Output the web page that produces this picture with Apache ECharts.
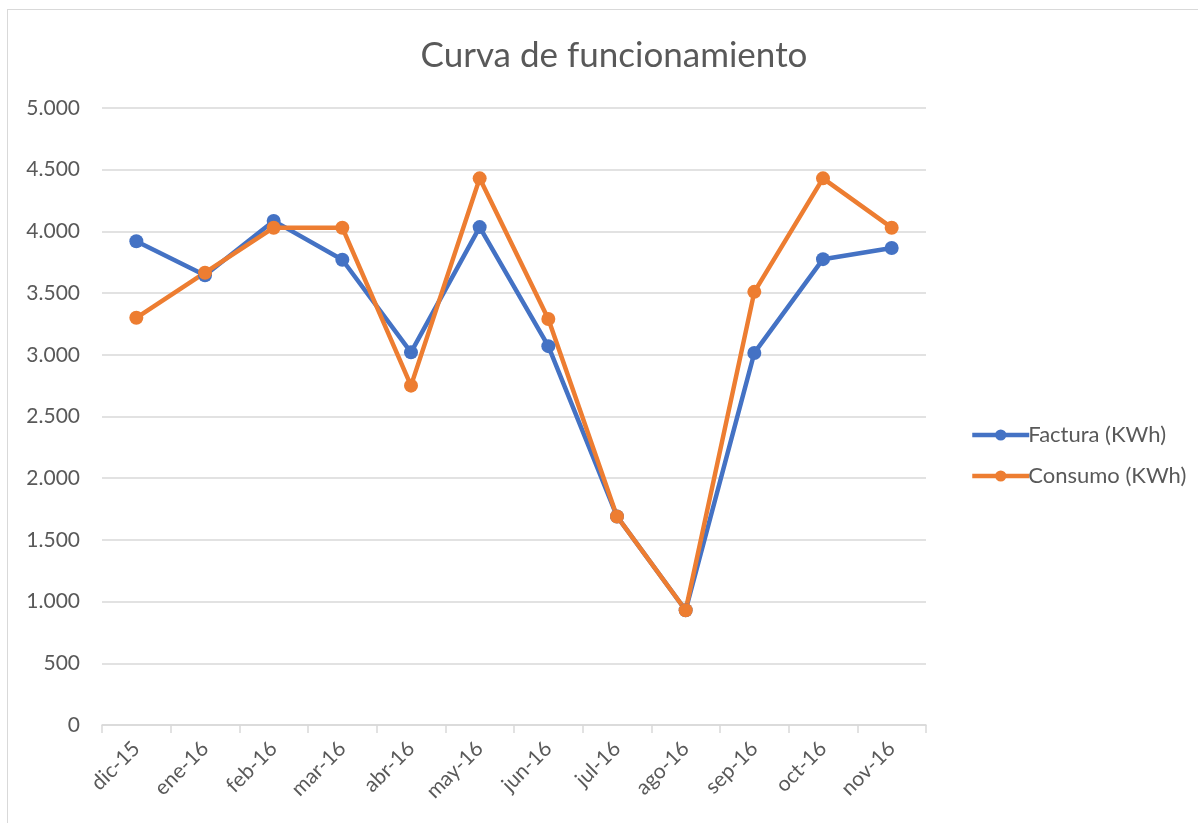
<!DOCTYPE html>
<html>
<head>
<meta charset="utf-8">
<script src="https://cdn.jsdelivr.net/npm/echarts@6/dist/echarts.min.js"></script>
<style>
  html, body { margin: 0; padding: 0; background: #fff; }
  #frame { position: absolute; left: 7px; top: 9px; width: 1200px; height: 830px; border: 1px solid #d9d9d9; box-sizing: border-box; }
  #chart { position: absolute; left: 0; top: 0; width: 1198px; height: 823px; }
</style>
</head>
<body>
<div id="frame"></div>
<div id="chart"></div>
<script>
// meses
const months = ['dic-15', 'ene-16', 'feb-16', 'mar-16', 'abr-16', 'may-16',
    'jun-16', 'jul-16', 'ago-16', 'sep-16', 'oct-16', 'nov-16'];
const factura = [3920, 3645, 4085, 3770, 3020, 4035, 3070, 1690, 930, 3015, 3775, 3865];
const consumo = [3300, 3665, 4030, 4030, 2750, 4430, 3290, 1690, 930, 3510, 4430, 4030];

const textColor = '#595959';
const fontFam = 'Lato, "Open Sans", sans-serif';

const myChart = echarts.init(document.getElementById('chart'));

myChart.setOption({
    animation: false,
    textStyle: { fontFamily: fontFam },
    title: {
        text: 'Curva de funcionamiento',
        left: 609,
        top: 33,
        textAlign: 'center',
        textStyle: { color: textColor, fontSize: 35, fontWeight: 'normal', fontFamily: fontFam }
    },
    grid: { left: 102, right: 272, top: 108, bottom: 98 },
    legend: {
        orient: 'vertical',
        left: 965,
        top: 419,
        itemWidth: 57,
        itemHeight: 14,
        itemGap: 19,
        lineStyle: { width: 4.5 },
        textStyle: { color: textColor, fontSize: 22, fontFamily: fontFam, padding: [0, 0, 0, -6] },
        data: ['Factura (KWh)', 'Consumo (KWh)']
    },
    xAxis: {
        type: 'category',
        data: months,
        boundaryGap: true,
        axisLine: { lineStyle: { color: '#d9d9d9', width: 1.5 } },
        axisTick: { show: true, length: 8, lineStyle: { color: '#d9d9d9', width: 1.5 } },
        axisLabel: { rotate: 45, color: textColor, fontSize: 21, margin: 20, fontFamily: fontFam }
    },
    yAxis: {
        type: 'value',
        min: 0,
        max: 5000,
        interval: 500,
        axisLine: { show: false },
        axisTick: { show: false },
        splitLine: { lineStyle: { color: '#d9d9d9', width: 1.5 } },
        axisLabel: {
            color: textColor,
            fontSize: 21,
            margin: 22,
            fontFamily: fontFam,
            formatter: (v) => v.toString().replace(/\B(?=(\d{3})+(?!\d))/g, '.')
        }
    },
    series: [
        {
            name: 'Factura (KWh)',
            type: 'line',
            data: factura,
            symbol: 'circle',
            symbolSize: 14,
            lineStyle: { color: '#4472c4', width: 4.5 },
            itemStyle: { color: '#4472c4' }
        },
        {
            name: 'Consumo (KWh)',
            type: 'line',
            data: consumo,
            symbol: 'circle',
            symbolSize: 14,
            lineStyle: { color: '#ed7d31', width: 4.5 },
            itemStyle: { color: '#ed7d31' }
        }
    ]
});
</script>
</body>
</html>
